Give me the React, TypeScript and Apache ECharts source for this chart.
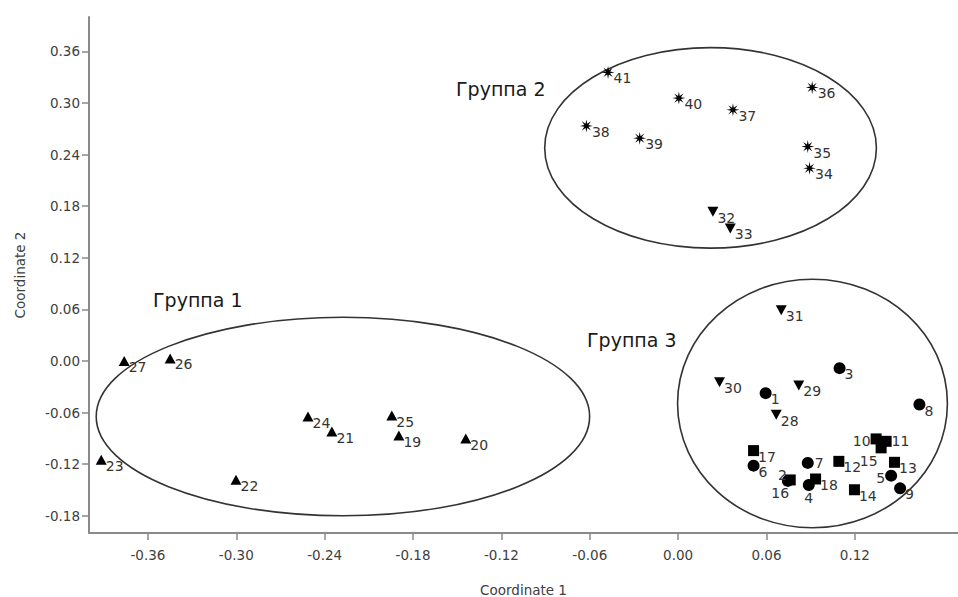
import React, { useEffect, useRef } from "react";
import * as echarts from "echarts";

// ---- data ----
const xTicks = [-0.36, -0.3, -0.24, -0.18, -0.12, -0.06, 0.0, 0.06, 0.12];
const yTicks = [-0.18, -0.12, -0.06, 0.0, 0.06, 0.12, 0.18, 0.24, 0.3, 0.36];

const triUpIds = ["19", "20", "21", "22", "23", "24", "25", "26", "27"];
const triUpX = [-0.1896, -0.1442, -0.2351, -0.3002, -0.3917, -0.2513, -0.1944, -0.3449, -0.3761];
const triUpY = [-0.0867, -0.0902, -0.082, -0.138, -0.1147, -0.0646, -0.0634, 0.003, 0.0];

const triDownIds = ["28", "29", "30", "31", "32", "33"];
const triDownX = [0.0666, 0.0819, 0.0281, 0.07, 0.0236, 0.0354];
const triDownY = [-0.0626, -0.0284, -0.0246, 0.059, 0.1735, 0.1542];

const starIds = ["34", "35", "36", "37", "38", "39", "40", "41"];
const starX = [0.0892, 0.088, 0.091, 0.0372, -0.0623, -0.0261, 0.0005, -0.0476];
const starY = [0.2241, 0.2493, 0.3181, 0.2921, 0.2734, 0.2591, 0.3057, 0.3356];

const circleIds = ["1", "2", "3", "4", "5", "6", "7", "8", "9"];
const circleX = [0.0594, 0.0745, 0.1096, 0.0887, 0.1446, 0.0512, 0.088, 0.1638, 0.1507];
const circleY = [-0.0374, -0.1394, -0.0083, -0.1442, -0.1333, -0.1217, -0.1185, -0.0506, -0.1481];

const squareIds = ["10", "11", "12", "13", "14", "15", "16", "17", "18"];
const squareX = [0.1344, 0.1412, 0.1091, 0.1469, 0.1197, 0.1378, 0.0761, 0.0512, 0.0933];
const squareY = [-0.0906, -0.0934, -0.1167, -0.1178, -0.1497, -0.101, -0.1383, -0.1042, -0.1372];

// group ellipses: centre x, centre y, radius x, radius y (data units)
const groupNames = ["Группа 1", "Группа 2", "Группа 3"];
const ellipseCx = [-0.2276, 0.022, 0.0912];
const ellipseCy = [-0.0646, 0.2478, -0.0494];
const ellipseRx = [0.1675, 0.1126, 0.0916];
const ellipseRy = [0.1154, 0.1166, 0.1445];

// ---- styles ----
const FONT = "DejaVu Sans";
const defaultLabel = { position: "right", offset: [-1, 6] };
const labelTweaks: Record<string, any> = {
  "2": { position: "left", offset: [5, -6] },
  "16": { position: "bottom", offset: [-10, 1] },
  "4": { position: "bottom", offset: [0, 0] },
  "10": { position: "left", offset: [0, 2] },
  "15": { position: "left", offset: [2, 13] },
  "5": { position: "left", offset: [0, 2] },
  "7": { position: "right", offset: [1, 0] },
  "11": { position: "right", offset: [0, 0] },
};

function starPath(): string {
  const pts: string[] = [];
  for (let i = 0; i < 16; i++) {
    const a = (i * Math.PI) / 8 - Math.PI / 2;
    const r = i % 2 === 0 ? 50 : 17;
    pts.push(`${(50 + r * Math.cos(a)).toFixed(2)} ${(50 + r * Math.sin(a)).toFixed(2)}`);
  }
  return "path://M" + pts.join(" L") + " Z";
}

function buildData(ids: string[], xs: number[], ys: number[]) {
  return ids.map((id, i) => {
    const t = labelTweaks[id] || defaultLabel;
    return {
      name: id,
      value: [xs[i], ys[i]],
      label: { position: t.position, offset: t.offset },
    };
  });
}

const labelBase = {
  show: true,
  formatter: "{b}",
  distance: 0,
  color: "#333",
  fontSize: 14,
  fontFamily: FONT,
};

function pointSeries(
  ids: string[],
  xs: number[],
  ys: number[],
  symbol: string,
  size: number | number[],
  rotate = 0
) {
  return {
    type: "scatter",
    data: buildData(ids, xs, ys),
    symbol,
    symbolSize: size,
    symbolRotate: rotate,
    itemStyle: { color: "#000", opacity: 1 },
    label: labelBase,
    z: 3,
    silent: true,
  };
}

export default function App() {
  const ref = useRef<HTMLDivElement>(null);
  useEffect(() => {
    if (!ref.current) return;
    const chart = echarts.init(ref.current, null, { renderer: "svg" });
    const axisColor = "#8a8a8a";
    const ellipseData = ellipseCx.map((cx, i) => [cx, ellipseCy[i], ellipseRx[i], ellipseRy[i]]);
    chart.setOption({
      animation: false,
      backgroundColor: "#fff",
      grid: { left: 89, right: 0, top: 17, bottom: 64, containLabel: false, outerBoundsMode: "none" },
      xAxis: {
        type: "value",
        min: -0.4,
        max: 0.19,
        name: "Coordinate 1",
        nameLocation: "middle",
        nameGap: 50,
        nameTextStyle: { color: "#404040", fontSize: 13.5, fontFamily: FONT },
        axisLine: { show: true, onZero: false, lineStyle: { color: axisColor, width: 2 } },
        axisTick: {
          show: true,
          length: 7,
          customValues: xTicks,
          lineStyle: { color: axisColor, width: 1.5 },
        },
        axisLabel: {
          customValues: xTicks,
          margin: 15,
          color: "#404040",
          fontSize: 13.5,
          fontFamily: FONT,
          formatter: (v: number) => v.toFixed(2),
        },
        splitLine: { show: false },
      },
      yAxis: {
        type: "value",
        min: -0.2,
        max: 0.4,
        name: "Coordinate 2",
        nameLocation: "middle",
        nameGap: 62,
        nameTextStyle: { color: "#404040", fontSize: 13.5, fontFamily: FONT },
        axisLine: { show: true, onZero: false, lineStyle: { color: axisColor, width: 2 } },
        axisTick: {
          show: true,
          length: 7,
          customValues: yTicks,
          lineStyle: { color: axisColor, width: 1.5 },
        },
        axisLabel: {
          customValues: yTicks,
          margin: 9,
          color: "#404040",
          fontSize: 13.5,
          fontFamily: FONT,
          formatter: (v: number) => v.toFixed(2),
        },
        splitLine: { show: false },
      },
      graphic: [
        { type: "text", left: 153, top: 290, style: { text: groupNames[0], fill: "#1a1a1a", font: `19px "${FONT}"` } },
        { type: "text", left: 456, top: 79, style: { text: groupNames[1], fill: "#1a1a1a", font: `19px "${FONT}"` } },
        { type: "text", left: 587, top: 330, style: { text: groupNames[2], fill: "#1a1a1a", font: `19px "${FONT}"` } },
      ],
      series: [
        {
          type: "custom",
          silent: true,
          clip: false,
          z: 1,
          data: ellipseData,
          renderItem: (params: any, api: any) => {
            const c = api.coord([api.value(0), api.value(1)]);
            const s = api.size([api.value(2), api.value(3)]);
            return {
              type: "ellipse",
              shape: { cx: c[0], cy: c[1], rx: s[0], ry: s[1] },
              style: { fill: "none", stroke: "#333", lineWidth: 1.6 },
            };
          },
        },
        pointSeries(triUpIds, triUpX, triUpY, "triangle", [11, 10]),
        pointSeries(triDownIds, triDownX, triDownY, "triangle", [11, 10], 180),
        pointSeries(starIds, starX, starY, starPath(), 13),
        pointSeries(circleIds, circleX, circleY, "circle", 12),
        pointSeries(squareIds, squareX, squareY, "rect", 11),
      ],
    });
    return () => chart.dispose();
  }, []);
  return (
    <div
      ref={ref}
      style={{ width: 958, height: 597, position: "absolute", left: 0, top: 0 }}
    />
  );
}
